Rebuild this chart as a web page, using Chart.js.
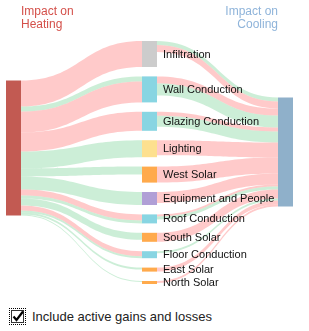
<!DOCTYPE html>
<html>
<head>
<meta charset="utf-8">
<script src="https://cdn.jsdelivr.net/npm/chart.js@4"></script>
<style>
  html, body { margin: 0; padding: 0; background: #fff; }
  #wrap { position: absolute; left: 0; top: 0; width: 309px; height: 300px; }
  .ttl { position: absolute; font: 12px "Liberation Sans", Arial, sans-serif; line-height: 13px; }
  #tHeat { left: 21px; top: 5px; color: #d4504a; }
  #tCool { left: 178px; top: 5px; width: 100px; text-align: right; color: #8fb4da; }
  #chk { position: absolute; left: 10px; top: 309px; display: flex; align-items: center;
         font: 13px "Liberation Sans", Arial, sans-serif; color: #222; }
  #box { width: 11px; height: 11px; border: 1px solid #333; background: #fff;
         outline: 1px dotted #000; outline-offset: 1px; margin: 0 8px 0 1px; position: relative; }
  #box svg { position: absolute; left: -1px; top: -2px; }
</style>
</head>
<body>
<div id="wrap"><canvas id="c"></canvas></div>
<div class="ttl" id="tHeat">Impact on<br>Heating</div>
<div class="ttl" id="tCool">Impact on<br>Cooling</div>
<div id="chk"><span id="box"><svg width="14" height="14" viewBox="0 0 14 14"><path d="M2.5 7.5 L5.5 11 L12 2.5" fill="none" stroke="#000" stroke-width="2.2"/></svg></span><span>Include active gains and losses</span></div>
<script>
// ---- data ----
const components = ['Infiltration','Wall Conduction','Glazing Conduction','Lighting','West Solar','Equipment and People','Roof Conduction','South Solar','Floor Conduction','East Solar','North Solar'];
const componentColors = ['#cccccc','#88d5e2','#88d5e2','#fde08f','#ffaa4c','#b09fd6','#88d5e2','#ffaa4c','#88d5e2','#ffaa4c','#ffaa4c'];
const heatingIncrease = [26, 21, 19, 0, 0, 0, 6, 0, 5, 0, 0];
const heatingDecrease = [0, 5, 0, 17, 8, 13, 3, 7, 2, 2, 1];
const coolingIncrease = [7, 7, 4, 15, 16, 11, 2, 9, 0, 4, 2];
const coolingDecrease = [4, 12, 11, 0, 0, 0, 3, 0, 2, 0, 0];
const heatingDecreaseFirst = [false, true, false, false, false, false, false, false, false, false, false];
const coolingDecreaseFirst = [true, false, false, false, false, false, false, false, false, false, false];

// ---- layout / style ----
const heatColor = '#c25a52', coolColor = '#8fb0ca';
const pinkFlow = 'rgba(255,140,140,0.46)', greenFlow = 'rgba(120,210,150,0.38)';
const nodeW = 15, middleTop = 41, nodePad = 9.4, heatTop = 80.5, coolTop = 97.5, minNode = 3;

const sankeyPlugin = {
  id: 'sankey',
  afterDatasetsDraw(chart) {
    const { ctx } = chart;
    const xs = chart.scales.x, ys = chart.scales.y;
    const cx = [0, 1, 2].map(v => xs.getPixelForValue(v));
    const Y = v => ys.getPixelForValue(v);
    const n = components.length;
    const heights = components.map((_, i) => Math.max(minNode,
      heatingIncrease[i] + heatingDecrease[i], coolingIncrease[i] + coolingDecrease[i]));
    const tops = []; let cur = middleTop;
    for (let i = 0; i < n; i++) { tops.push(cur); cur += heights[i] + nodePad; }
    const heatTotal = heatingIncrease.reduce((a, b) => a + b, 0) + heatingDecrease.reduce((a, b) => a + b, 0);
    const coolTotal = coolingIncrease.reduce((a, b) => a + b, 0) + coolingDecrease.reduce((a, b) => a + b, 0);

    function flow(x0, s0, x1, t0, w, color) {
      if (w <= 0) return;
      const xm = (x0 + x1) / 2;
      ctx.beginPath();
      ctx.moveTo(x0, Y(s0));
      ctx.bezierCurveTo(xm, Y(s0), xm, Y(t0), x1, Y(t0));
      ctx.lineTo(x1, Y(t0 + w));
      ctx.bezierCurveTo(xm, Y(t0 + w), xm, Y(s0 + w), x0, Y(s0 + w));
      ctx.closePath();
      ctx.fillStyle = color;
      ctx.fill();
    }
    ctx.save();
    // heating -> components
    let hOff = heatTop;
    for (let i = 0; i < n; i++) {
      let parts = [[heatingIncrease[i], pinkFlow], [heatingDecrease[i], greenFlow]];
      if (heatingDecreaseFirst[i]) parts.reverse();
      let tOff = tops[i];
      for (const [w, col] of parts) {
        flow(cx[0] + nodeW / 2, hOff, cx[1] - nodeW / 2, tOff, w, col);
        hOff += w; tOff += w;
      }
    }
    // components -> cooling
    let cOff = coolTop;
    for (let i = 0; i < n; i++) {
      let parts = [[coolingIncrease[i], pinkFlow], [coolingDecrease[i], greenFlow]];
      if (coolingDecreaseFirst[i]) parts.reverse();
      let sOff = tops[i];
      for (const [w, col] of parts) {
        flow(cx[1] + nodeW / 2, sOff, cx[2] - nodeW / 2, cOff, w, col);
        sOff += w; cOff += w;
      }
    }
    // nodes
    ctx.fillStyle = heatColor;
    ctx.fillRect(cx[0] - nodeW / 2, Y(heatTop), nodeW, Y(heatTop + heatTotal) - Y(heatTop));
    ctx.fillStyle = coolColor;
    ctx.fillRect(cx[2] - nodeW / 2, Y(coolTop), nodeW, Y(coolTop + coolTotal) - Y(coolTop));
    ctx.font = '11px "Liberation Sans", Arial, sans-serif';
    ctx.textBaseline = 'middle';
    for (let i = 0; i < n; i++) {
      ctx.fillStyle = componentColors[i];
      ctx.fillRect(cx[1] - nodeW / 2, Y(tops[i]), nodeW, Y(tops[i] + heights[i]) - Y(tops[i]));
      ctx.fillStyle = '#111';
      ctx.fillText(components[i], cx[1] + nodeW / 2 + 6, Y(tops[i] + heights[i] / 2) + 0.5);
    }
    ctx.restore();
  }
};

new Chart(document.getElementById('c'), {
  type: 'scatter',
  data: { datasets: [] },
  options: {
    responsive: true, maintainAspectRatio: false, animation: false,
    layout: { padding: { left: 13.5, right: 23.5, top: 0, bottom: 0 } },
    plugins: { legend: { display: false }, tooltip: { enabled: false } },
    scales: {
      x: { type: 'linear', display: false, min: 0, max: 2 },
      y: { type: 'linear', display: false, min: 0, max: 300, reverse: true }
    }
  },
  plugins: [sankeyPlugin]
});
</script>
</body>
</html>
